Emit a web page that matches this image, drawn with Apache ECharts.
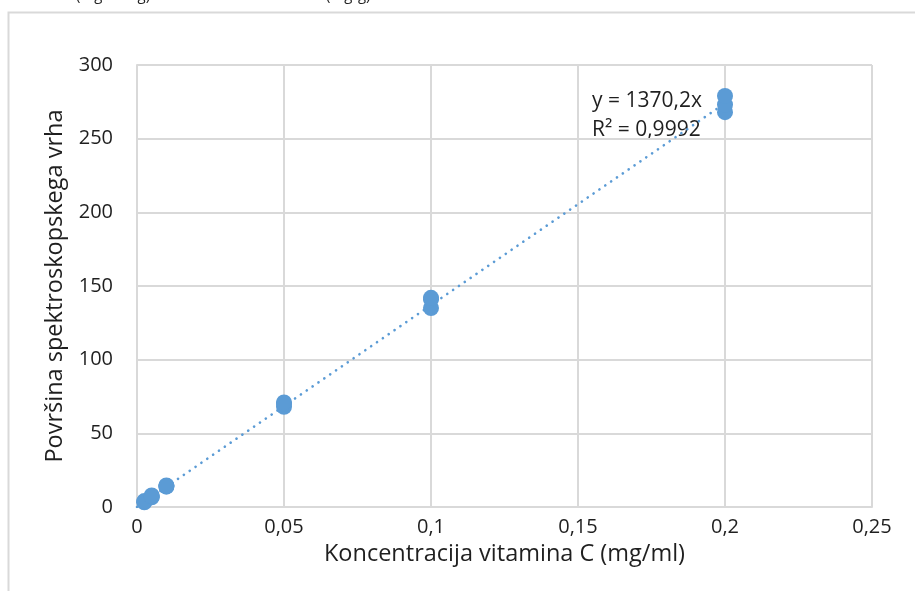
<!DOCTYPE html>
<html><head><meta charset="utf-8">
<script src="https://cdn.jsdelivr.net/npm/echarts@6/dist/echarts.min.js"></script>
<style>html,body{margin:0;padding:0;background:#fff}#c{width:915px;height:591px}</style>
</head><body><div id="c"></div>
<script>
// Data
const concentrations = [0.0025, 0.0025, 0.0025, 0.005, 0.005, 0.005, 0.01, 0.01, 0.01, 0.05, 0.05, 0.05, 0.1, 0.1, 0.1, 0.2, 0.2, 0.2];
const areas =          [3.2, 3.6, 4.0, 6.6, 7.2, 7.8, 13.8, 14.2, 14.6, 68, 70, 71, 135, 141, 142, 268, 273, 279];
const slope = 1370.2;
const trendX = [0, 0.2];
const xTickLabels = ['0', '0,05', '0,1', '0,15', '0,2', '0,25'];
const yTickLabels = ['0', '50', '100', '150', '200', '250', '300'];
const equationText = 'y = 1370,2x';
const r2Text = 'R² = 0,9992';
const xTitle = 'Koncentracija vitamina C (mg/ml)';
const yTitle = 'Površina spektroskopskega vrha';
const croppedTop = ['(mg/100 g)', '(mg/g)'];

const font = '"Open Sans", Lato, sans-serif';
const textColor = '#1f1f1f';
const gridColor = '#d9d9d9';
const blue = '#5b9bd5';

const chart = echarts.init(document.getElementById('c'), null, {renderer: 'canvas'});
chart.setOption({
  animation: false,
  backgroundColor: '#fff',
  grid: {left: 137, right: 43, top: 65, bottom: 84, containLabel: false},
  xAxis: {
    type: 'value', min: 0, max: 0.25, interval: 0.05,
    name: xTitle, nameLocation: 'middle', nameGap: 34,
    nameTextStyle: {fontFamily: font, fontSize: 23.5, color: textColor},
    axisLine: {show: true, lineStyle: {color: gridColor, width: 2}},
    axisTick: {show: false},
    splitLine: {show: true, lineStyle: {color: gridColor, width: 2}},
    axisLabel: {fontFamily: font, fontSize: 20, color: textColor, margin: 10,
      formatter: (v) => xTickLabels[Math.round(v / 0.05)]}
  },
  yAxis: {
    type: 'value', min: 0, max: 300, interval: 50,
    name: yTitle, nameLocation: 'middle', nameGap: 66, nameRotate: 90,
    nameTextStyle: {fontFamily: font, fontSize: 23.5, color: textColor},
    axisLine: {show: true, lineStyle: {color: gridColor, width: 2}},
    axisTick: {show: false},
    splitLine: {show: true, lineStyle: {color: gridColor, width: 2}},
    axisLabel: {fontFamily: font, fontSize: 20, color: textColor, margin: 24,
      formatter: (v) => yTickLabels[Math.round(v / 50)]}
  },
  series: [
    {
      type: 'line', data: trendX.map(x => [x, slope * x]), showSymbol: false, symbol: 'none',
      lineStyle: {color: blue, width: 2.6, type: [0.1, 7], cap: 'round'}, z: 3, silent: true
    },
    {
      type: 'scatter', data: concentrations.map((c, i) => [c, areas[i]]),
      symbol: 'circle', symbolSize: 16, itemStyle: {color: blue, opacity: 1}, z: 4
    }
  ],
  graphic: [
    {type: 'rect', shape: {x: 8.5, y: 12.5, width: 1000, height: 1000}, style: {fill: 'none', stroke: gridColor, lineWidth: 2}, silent: true, z: -1},
    {type: 'text', x: 592, y: 101, style: {text: equationText, fontFamily: font, fontSize: 21, fill: textColor, verticalAlign: 'middle'}},
    {type: 'text', x: 592, y: 130, style: {text: r2Text, fontFamily: font, fontSize: 21, fill: textColor, verticalAlign: 'middle'}},
    {type: 'text', x: 76, y: 3, style: {text: croppedTop[0], fontFamily: font, fontSize: 15, fill: textColor, verticalAlign: 'bottom'}},
    {type: 'text', x: 326, y: 3, style: {text: croppedTop[1], fontFamily: font, fontSize: 15, fill: textColor, verticalAlign: 'bottom'}}
  ]
});
</script>
</body></html>
